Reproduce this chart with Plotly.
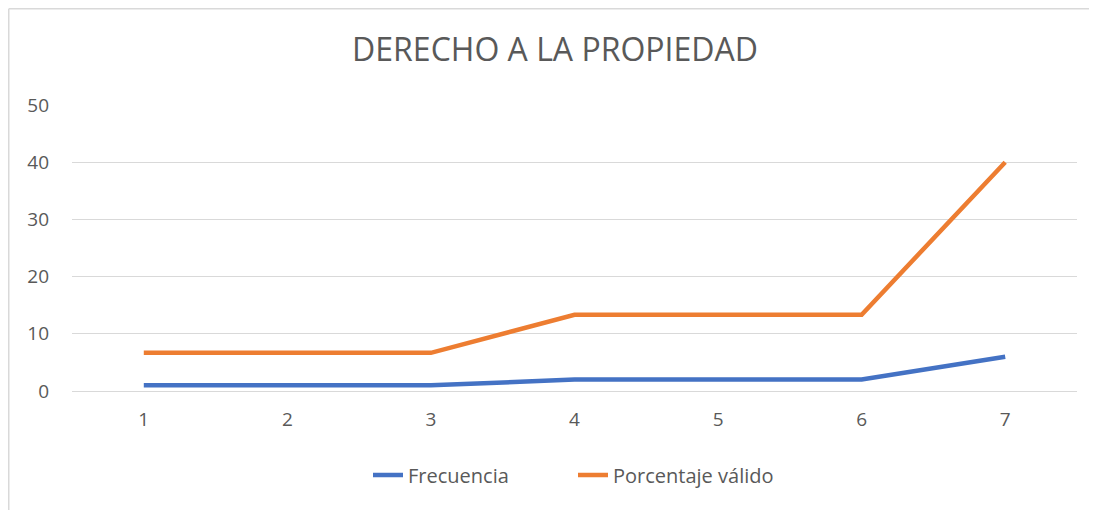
import plotly.graph_objects as go

categories = [1, 2, 3, 4, 5, 6, 7]
frecuencia = [1, 1, 1, 2, 2, 2, 6]
porcentaje_valido = [6.67, 6.67, 6.67, 13.33, 13.33, 13.33, 40.0]
y_ticks = [0, 10, 20, 30, 40, 50]

L, R, T, B = 64, 28, 97, 127
W, H = 1097, 510
pw, ph = W - L - R, H - T - B

fig = go.Figure()
fig.add_trace(go.Scatter(x=categories, y=frecuencia, mode="lines", name="Frecuencia",
                         line=dict(color="#4472C4", width=4.5)))
fig.add_trace(go.Scatter(x=categories, y=porcentaje_valido, mode="lines", name="Porcentaje válido",
                         line=dict(color="#ED7D31", width=4.5)))

font_family = "Open Sans, Liberation Sans, sans-serif"
fig.update_layout(
    width=W, height=H,
    margin=dict(l=L, r=R, t=T, b=B),
    paper_bgcolor="white", plot_bgcolor="white",
    title=dict(text="DERECHO A LA PROPIEDAD", x=(547 - L) / pw, xanchor="center",
               xref="paper", y=1 - 42 / H, yanchor="middle",
               font=dict(family=font_family, size=32, color="#595959")),
    font=dict(family=font_family, size=19, color="#595959"),
    showlegend=True,
    legend=dict(orientation="h", x=(368 - 8 - L) / pw, xanchor="left", y=(383 - 467) / ph, yanchor="middle",
                font=dict(size=20, color="#595959"), traceorder="normal", entrywidth=160,
                entrywidthmode="pixels"),
    xaxis=dict(range=[0.5, 7.5], tickvals=categories, ticktext=[str(c) for c in categories],
               showgrid=False, zeroline=False, showline=False, ticks="",
               ticklabelstandoff=15, fixedrange=True),
    yaxis=dict(range=[0, 50], tickvals=y_ticks, showgrid=True, gridcolor="#D9D9D9", gridwidth=1.3,
               zeroline=True, zerolinecolor="#D9D9D9", zerolinewidth=1.3, showline=False, ticks="",
               ticklabelstandoff=22, fixedrange=True),
    shapes=[
        dict(type="line", xref="paper", yref="paper",
             x0=(0.75 - L) / pw, x1=(0.75 - L) / pw, y0=1 + (T - 0.75) / ph, y1=-1,
             line=dict(color="#D9D9D9", width=1.5)),
        dict(type="line", xref="paper", yref="paper",
             x0=(0.75 - L) / pw, x1=1.2, y0=1 + (T - 0.75) / ph, y1=1 + (T - 0.75) / ph,
             line=dict(color="#D9D9D9", width=1.5)),
    ],
)
fig.write_html("out.html")
